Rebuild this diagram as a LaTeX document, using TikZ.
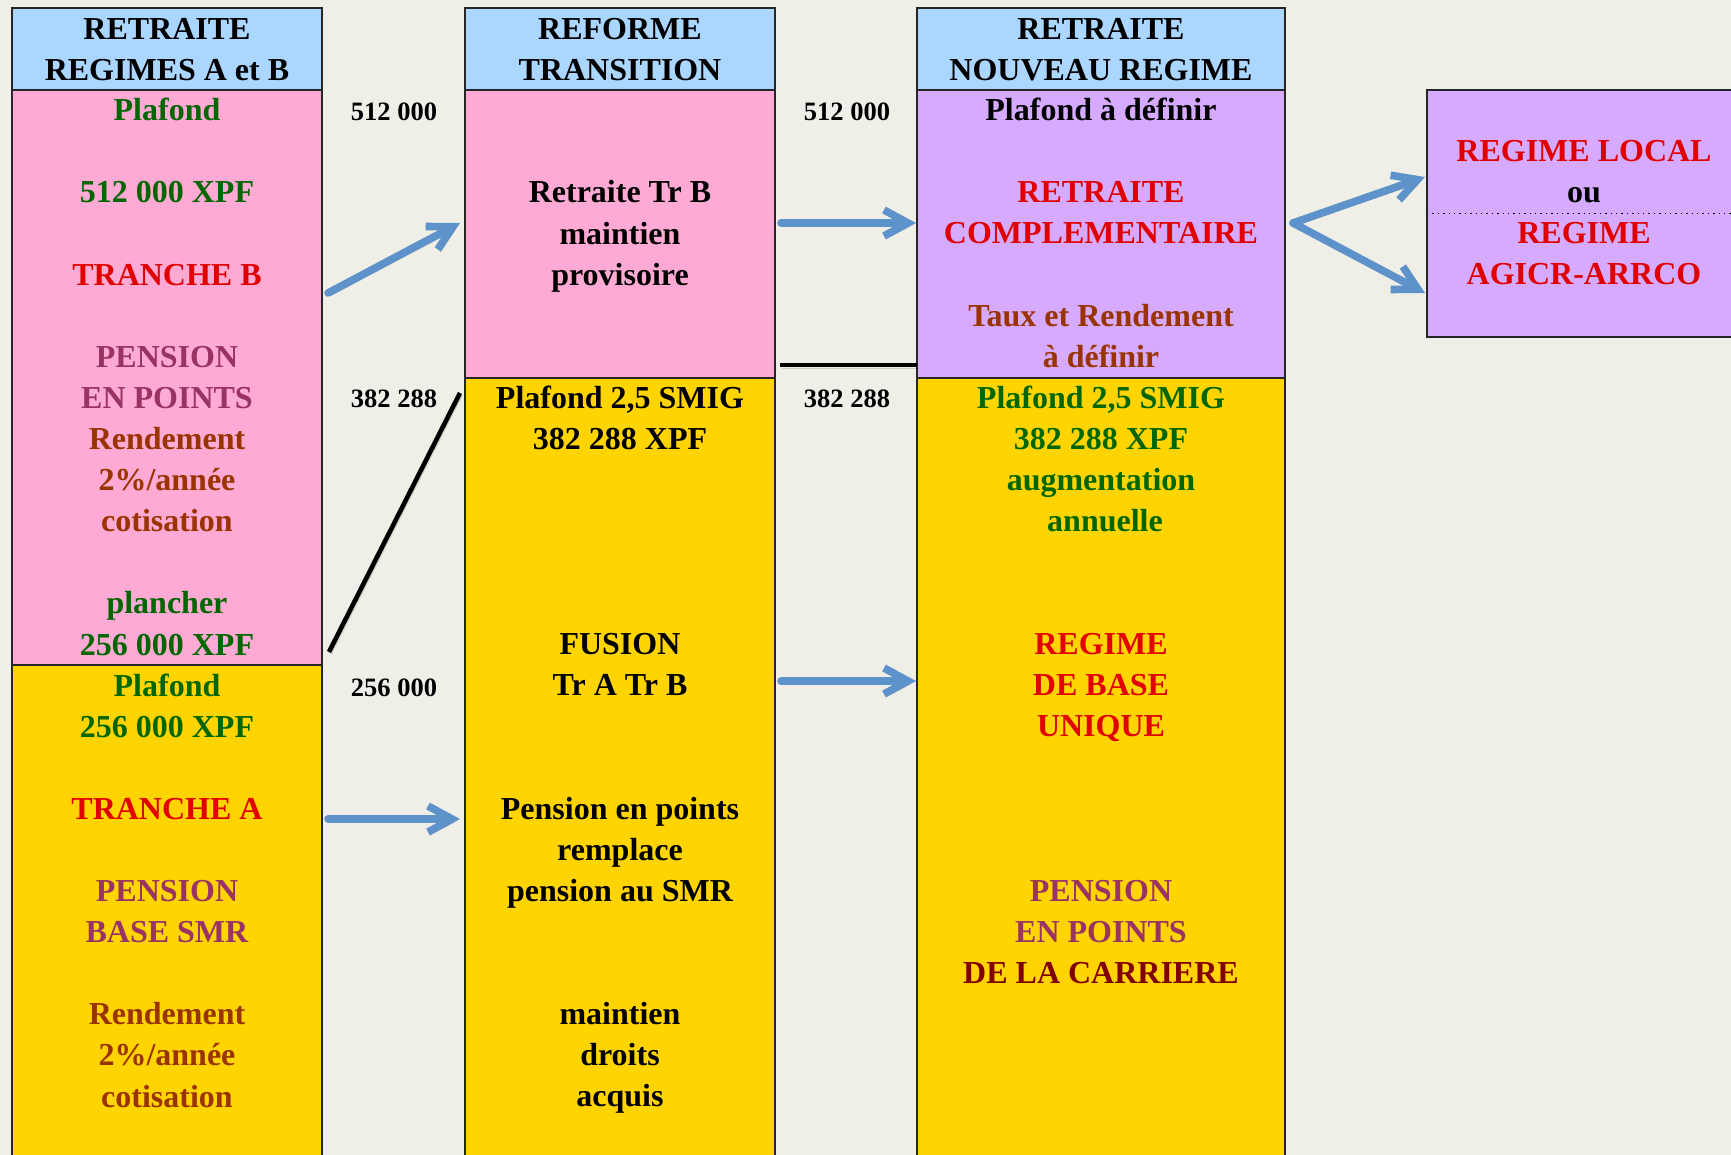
\documentclass[tikz,border=0pt]{standalone}
\usepackage{fontspec}
\setmainfont{Liberation Serif}
\usetikzlibrary{arrows.meta}
\definecolor{bg}{RGB}{240,239,231}
\definecolor{hdrblue}{RGB}{170,214,255}
\definecolor{pinkc}{RGB}{255,170,213}
\definecolor{yell}{RGB}{255,212,0}
\definecolor{purp}{RGB}{213,170,255}
\definecolor{grn}{RGB}{0,102,0}
\definecolor{rd}{RGB}{224,0,0}
\definecolor{plum}{RGB}{153,51,102}
\definecolor{brn}{RGB}{153,51,0}
\definecolor{darkred}{RGB}{128,0,0}
\definecolor{arrblue}{RGB}{93,146,203}
\begin{document}
\begin{tikzpicture}[x=0.5pt,y=-0.5pt,
  colbox/.style={draw=black!85, line width=0.8pt, inner sep=0pt, outer sep=0pt},
  txt/.style={font=\fontsize{16}{20.55}\selectfont\bfseries, align=center, anchor=base, inner sep=0pt},
  lbl/.style={font=\fontsize{13.25}{16}\selectfont\bfseries, anchor=base, inner sep=0pt},
  bluearrow/.style={draw=arrblue, line width=3.8pt, line cap=round, line join=round,
     -{Straight Barb[length=12pt,width=13pt]},
     preaction={draw=black, draw opacity=0.22, transform canvas={shift={(1pt,-1.5pt)}}}},
  blackline/.style={draw=black, line width=2.3pt,
     preaction={draw=black, draw opacity=0.15, transform canvas={shift={(1pt,-1.5pt)}}}}
]
\useasboundingbox (0,0) rectangle (1731,1155);
\clip (0,0) rectangle (1731,1155);
\fill[bg] (0,0) rectangle (1731,1155);

% column 1
\node[colbox, fill=yell, minimum width=155pt, minimum height=247.5pt] (y1) at (167,912.5) {};
\node[colbox, fill=pinkc, minimum width=155pt, minimum height=287.5pt] (p1) at (167,377.5) {};
\node[colbox, fill=hdrblue, minimum width=155pt, minimum height=41pt] (h1) at (167,49) {};
% column 2
\node[colbox, fill=yell, minimum width=155pt, minimum height=391pt] (y2) at (620,769) {};
\node[colbox, fill=pinkc, minimum width=155pt, minimum height=144pt] (p2) at (620,234) {};
\node[colbox, fill=hdrblue, minimum width=155pt, minimum height=41pt] (h2) at (620,49) {};
% column 3
\node[colbox, fill=yell, minimum width=184pt, minimum height=391pt] (y3) at (1101,769) {};
\node[colbox, fill=purp, minimum width=184pt, minimum height=144pt] (p3) at (1101,234) {};
\node[colbox, fill=hdrblue, minimum width=184pt, minimum height=41pt] (h3) at (1101,49) {};
% box 4
\node[colbox, fill=purp, minimum width=157pt, minimum height=123.5pt] (b4) at (1584,213.5) {};
\draw[dotted, line width=0.7pt] (b4.west) -- (b4.east);

% headers (anchor = baseline of the last line)
\node[txt] (t1h) at (167,80.4) {RETRAITE\\REGIMES A et B};
\node[txt] (t2h) at (620,80.4) {REFORME\\TRANSITION};
\node[txt] (t3h) at (1101,80.4) {RETRAITE\\NOUVEAU REGIME};

% column 1 texts
\node[txt] (t1p) at (167,655) {\textcolor{grn}{Plafond}\\ \\ \textcolor{grn}{512 000 XPF}\\ \\ \textcolor{rd}{TRANCHE B}\\ \\ \textcolor{plum}{PENSION}\\ \textcolor{plum}{EN POINTS}\\ \textcolor{brn}{Rendement}\\ \textcolor{brn}{2\%/année}\\ \textcolor{brn}{cotisation}\\ \\ \textcolor{grn}{plancher}\\ \textcolor{grn}{256 000 XPF}};
\node[txt] (t1y) at (167,1107) {\textcolor{grn}{Plafond}\\ \textcolor{grn}{256 000 XPF}\\ \\ \textcolor{rd}{TRANCHE A}\\ \\ \textcolor{plum}{PENSION}\\ \textcolor{plum}{BASE SMR}\\ \\ \textcolor{brn}{Rendement}\\ \textcolor{brn}{2\%/année}\\ \textcolor{brn}{cotisation}};

% column 2 texts
\node[txt] (t2p) at (620,285.2) {Retraite Tr B\\ maintien\\ provisoire};
\node[txt] (t2y) at (620,1106.7) {Plafond 2,5 SMIG\\ 382 288 XPF\\ \\ \\ \\ \\ FUSION\\ Tr A Tr B\\ \\ \\ Pension en points\\ remplace\\ pension au SMR\\ \\ \\ maintien\\ droits\\ acquis};

% column 3 texts
\node[txt] (t3p) at (1101,367.3) {Plafond à définir\\ \\ \textcolor{rd}{RETRAITE}\\ \textcolor{rd}{COMPLEMENTAIRE}\\ \\ \textcolor{brn}{Taux et Rendement}\\ \textcolor{brn}{à définir}};
\node[txt] (t3y) at (1101,983.4) {\textcolor{grn}{Plafond 2,5 SMIG}\\ \textcolor{grn}{382 288 XPF}\\ \textcolor{grn}{augmentation}\\ \textcolor{grn}{\hspace*{4pt}annuelle}\\ \\ \\ \textcolor{rd}{REGIME}\\ \textcolor{rd}{DE BASE}\\ \textcolor{rd}{UNIQUE}\\ \\ \\ \\ \textcolor{plum}{PENSION}\\ \textcolor{plum}{EN POINTS}\\ \textcolor{darkred}{DE LA CARRIERE}};

% box 4 text
\node[txt] (t4) at (1584,285) {\textcolor{rd}{REGIME LOCAL}\\ ou\\ \textcolor{rd}{REGIME}\\ \textcolor{rd}{AGICR-ARRCO}};

% level labels
\node[lbl] (l1a) at (394,120.7) {512 000};
\node[lbl] (l1b) at (394,408) {382 288};
\node[lbl] (l1c) at (394,696) {256 000};
\node[lbl] (l2a) at (847,120.7) {512 000};
\node[lbl] (l2b) at (847,408) {382 288};

% connector end points
\coordinate (a1s) at (328,293);  \coordinate (a1e) at (460,223);
\coordinate (a2s) at (328,819);  \coordinate (a2e) at (460,819);
\coordinate (a3s) at (781,223);  \coordinate (a3e) at (916,223);
\coordinate (a4s) at (781,681);  \coordinate (a4e) at (916,681);
\coordinate (a5s) at (1293,223); \coordinate (a5u) at (1425,177); \coordinate (a5d) at (1425,293);
\coordinate (k1s) at (329,652);  \coordinate (k1e) at (460,393);
\coordinate (k2s) at (780,365);  \coordinate (k2e) at (917,365);

\draw[blackline] (k1s) -- (k1e);
\draw[blackline] (k2s) -- (k2e);
\draw[bluearrow] (a1s) -- (a1e);
\draw[bluearrow] (a2s) -- (a2e);
\draw[bluearrow] (a3s) -- (a3e);
\draw[bluearrow] (a4s) -- (a4e);
\draw[bluearrow] (a5s) -- (a5u);
\draw[bluearrow] (a5s) -- (a5d);
\end{tikzpicture}
\end{document}
